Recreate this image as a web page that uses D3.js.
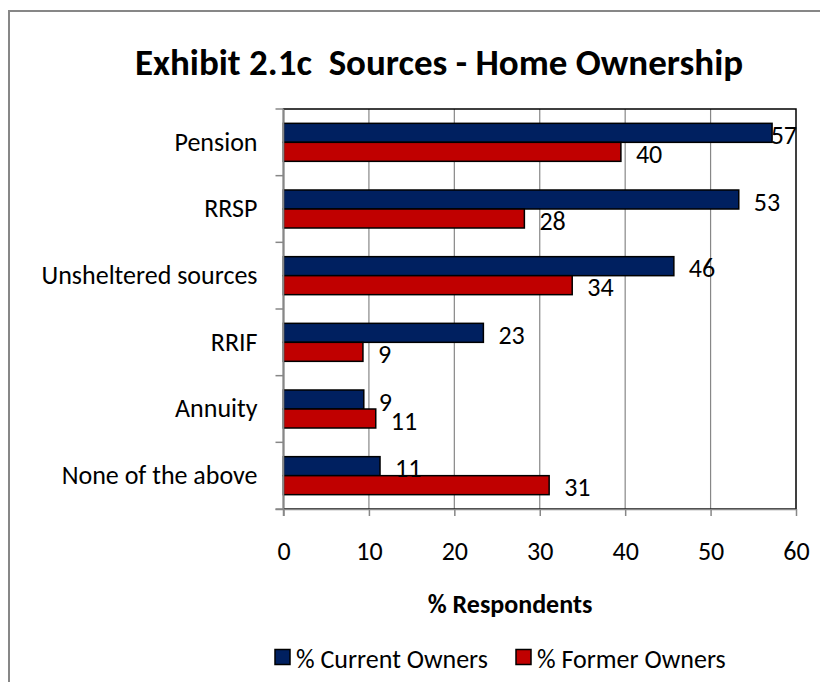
<!DOCTYPE html>
<html>
<head>
<meta charset="utf-8">
<script src="https://cdn.jsdelivr.net/npm/d3@7"></script>
<style>
  body { margin: 0; background: #fff; }
  text { font-family: Carlito, Lato, "Open Sans", sans-serif; fill: #000; }
</style>
</head>
<body>
<svg id="chart"></svg>
<script>
const categories = ["Pension", "RRSP", "Unsheltered sources", "RRIF", "Annuity", "None of the above"];
const currentOwners = [57.2, 53.3, 45.7, 23.4, 9.4, 11.3];
const formerOwners = [39.5, 28.2, 33.8, 9.3, 10.8, 31.1];
const seriesNames = ["% Current Owners", "% Former Owners"];
const xTicks = [0, 10, 20, 30, 40, 50, 60];

const colors = { "% Current Owners": "#002060", "% Former Owners": "#c00000" };

const width = 820, height = 682;
const plot = { left: 283.5, right: 796, top: 109, bottom: 509 };
const fontSize = "26px";

const svg = d3.select("#chart").attr("width", width).attr("height", height);

// outer chart border (runs off the right / bottom edge)
svg.append("rect")
  .attr("x", 9).attr("y", 11)
  .attr("width", width + 20).attr("height", height + 20)
  .attr("fill", "none")
  .attr("stroke", "#878787")
  .attr("stroke-width", 2);

svg.append("text")
  .text("Exhibit 2.1c  Sources - Home Ownership")
  .attr("x", 439).attr("y", 75)
  .attr("text-anchor", "middle")
  .style("white-space", "pre")
  .style("font-weight", "bold")
  .style("font-size", "37px");

const x = d3.scaleLinear().domain([0, 60]).range([plot.left, plot.right]);

const y = d3.scaleBand()
  .domain(categories)
  .range([plot.top, plot.bottom])
  .paddingInner(0.43)
  .paddingOuter(0.215);

const ySeries = d3.scaleBand().domain(seriesNames).range([0, y.bandwidth()]);

// vertical gridlines
svg.append("g")
  .selectAll("line")
  .data(xTicks.slice(1, -1))
  .enter()
  .append("line")
  .attr("x1", (d) => x(d)).attr("x2", (d) => x(d))
  .attr("y1", plot.top).attr("y2", plot.bottom)
  .attr("stroke", "#878787")
  .attr("stroke-width", 1.2);

// plot area border (top & right show black)
svg.append("rect")
  .attr("x", plot.left).attr("y", plot.top)
  .attr("width", plot.right - plot.left).attr("height", plot.bottom - plot.top)
  .attr("fill", "none")
  .attr("stroke", "#000")
  .attr("stroke-width", 1.5);

const rows = categories.map((c, i) => ({
  category: c,
  values: [
    { series: seriesNames[0], value: currentOwners[i] },
    { series: seriesNames[1], value: formerOwners[i] },
  ],
}));

const groups = svg.append("g")
  .selectAll("g")
  .data(rows)
  .enter()
  .append("g")
  .attr("transform", (d) => `translate(0, ${y(d.category)})`);

groups.selectAll("rect")
  .data((d) => d.values)
  .enter()
  .append("rect")
  .attr("x", x(0))
  .attr("y", (d) => ySeries(d.series))
  .attr("width", (d) => x(d.value) - x(0))
  .attr("height", ySeries.bandwidth())
  .attr("fill", (d) => colors[d.series])
  .attr("stroke", "#000")
  .attr("stroke-width", 1.5);

// data labels, pulled back inside when they would run past the plot edge
groups.selectAll("text")
  .data((d) => d.values)
  .enter()
  .append("text")
  .text((d) => Math.round(d.value))
  .attr("y", (d) => ySeries(d.series) + ySeries.bandwidth() / 2 + 2)
  .attr("dy", "0.35em")
  .style("font-size", fontSize)
  .attr("x", function (d) {
    const w = this.getComputedTextLength();
    return Math.min(x(d.value) + 15, plot.right + 1 - w);
  });

// x axis
const xAxis = svg.append("g")
  .attr("transform", `translate(0, ${plot.bottom})`)
  .call(d3.axisBottom(x).tickValues(xTicks).tickSize(7).tickPadding(26).tickSizeOuter(0));
xAxis.select(".domain")
  .attr("d", `M${plot.left - 8},0.5H${plot.right}`)
  .attr("stroke", "#878787")
  .attr("stroke-width", 1.5);
xAxis.selectAll(".tick line").attr("stroke", "#878787").attr("stroke-width", 1.5);
xAxis.selectAll(".tick text")
  .style("font-family", "Carlito, Lato, sans-serif")
  .style("font-size", fontSize);

// y axis: category names centred on bands, ticks between them
const yAxis = svg.append("g")
  .attr("transform", `translate(${plot.left}, 0)`)
  .call(d3.axisLeft(y).tickSize(0).tickPadding(26));
yAxis.select(".domain").remove();
yAxis.selectAll(".tick text")
  .style("font-family", "Carlito, Lato, sans-serif")
  .style("font-size", fontSize);

const boundaries = d3.range(categories.length + 1).map((i) => plot.top + i * y.step());
svg.append("g")
  .selectAll("line")
  .data(boundaries)
  .enter()
  .append("line")
  .attr("x1", plot.left - 8).attr("x2", plot.left)
  .attr("y1", (d) => d).attr("y2", (d) => d)
  .attr("stroke", "#878787")
  .attr("stroke-width", 1.5);
svg.append("line")
  .attr("x1", plot.left).attr("x2", plot.left)
  .attr("y1", plot.top).attr("y2", plot.bottom + 7)
  .attr("stroke", "#878787")
  .attr("stroke-width", 1.5);

svg.append("text")
  .text("% Respondents")
  .attr("x", 510).attr("y", 613)
  .attr("text-anchor", "middle")
  .style("font-weight", "bold")
  .style("font-size", fontSize);

// legend
const legendX = [275, 516];
const legend = svg.append("g")
  .selectAll("g")
  .data(seriesNames)
  .enter()
  .append("g")
  .attr("transform", (d, i) => `translate(${legendX[i]}, 657)`);

legend.append("rect")
  .attr("x", 0).attr("y", -7.5)
  .attr("width", 15).attr("height", 15)
  .attr("fill", (d) => colors[d])
  .attr("stroke", "#000")
  .attr("stroke-width", 1.5);

legend.append("text")
  .text((d) => d)
  .attr("x", 21).attr("y", 2)
  .attr("dy", "0.35em")
  .style("font-size", fontSize);
</script>
</body>
</html>
